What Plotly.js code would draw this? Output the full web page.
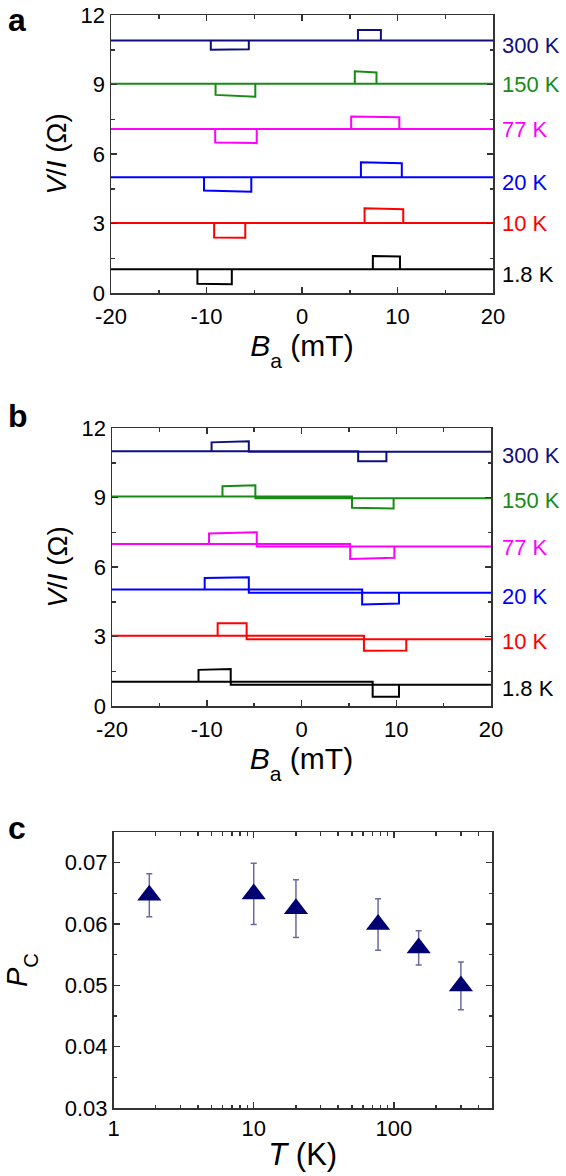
<!DOCTYPE html>
<html>
<head>
<meta charset="utf-8">
<script src="https://cdn.plot.ly/plotly-3.0.1.min.js"></script>
<style>html,body{margin:0;padding:0;background:#fff;}#chart{width:566px;height:1176px;}</style>
</head>
<body>
<div id="chart"></div>
<script>
// ---------- DATA ----------
const temps = ['300 K', '150 K', '77 K', '20 K', '10 K', '1.8 K'];

// Panel a : field sweeps (B in mT, V/I in Ohm), sweep up then sweep down
const a_B_300 = [-20, 5.86, 5.86, 8.26, 8.26, 20, -5.57, -5.57, -9.55, -9.55, -20];
const a_V_300 = [10.9, 10.9, 11.35, 11.35, 10.9, 10.9, 10.9, 10.52, 10.50, 10.9, 10.9];
const a_B_150 = [-20, 5.53, 5.53, 7.80, 7.80, 20, -4.89, -4.89, -9.05, -9.05, -20];
const a_V_150 = [9.03, 9.03, 9.57, 9.52, 9.03, 9.03, 9.03, 8.47, 8.55, 9.03, 9.03];
const a_B_77 = [-20, 5.15, 5.15, 10.19, 10.19, 20, -4.74, -4.74, -9.09, -9.09, -20];
const a_V_77 = [7.08, 7.08, 7.62, 7.59, 7.08, 7.08, 7.08, 6.47, 6.50, 7.08, 7.08];
const a_B_20 = [-20, 6.17, 6.17, 10.45, 10.45, 20, -5.31, -5.31, -10.26, -10.26, -20];
const a_V_20 = [5.0, 5.0, 5.64, 5.60, 5.0, 5.0, 5.0, 4.37, 4.42, 5.0, 5.0];
const a_B_10 = [-20, 6.55, 6.55, 10.6, 10.6, 20, -5.94, -5.94, -9.2, -9.2, -20];
const a_V_10 = [3.02, 3.02, 3.66, 3.62, 3.02, 3.02, 3.02, 2.38, 2.40, 3.02, 3.02];
const a_B_1p8 = [-20, 7.42, 7.42, 10.26, 10.26, 20, -7.35, -7.35, -10.95, -10.95, -20];
const a_V_1p8 = [1.02, 1.02, 1.60, 1.58, 1.02, 1.02, 1.02, 0.38, 0.40, 1.02, 1.02];

// Panel b
const b_B_300 = [-20, -9.49, -9.49, -5.56, -5.56, 20, 8.96, 8.96, 5.98, 5.98, -20];
const b_V_300 = [11.0, 11.0, 11.38, 11.43, 10.97, 10.97, 10.97, 10.57, 10.57, 11.0, 11.0];
const b_B_150 = [-20, -8.34, -8.34, -4.87, -4.87, 20, 9.72, 9.72, 5.33, 5.33, -20];
const b_V_150 = [9.04, 9.04, 9.49, 9.53, 8.97, 8.97, 8.97, 8.53, 8.56, 9.04, 9.04];
const b_B_77 = [-20, -9.76, -9.76, -4.72, -4.72, 20, 9.80, 9.80, 5.14, 5.14, -20];
const b_V_77 = [6.99, 6.99, 7.45, 7.50, 6.89, 6.89, 6.89, 6.40, 6.35, 6.99, 6.99];
const b_B_20 = [-20, -10.22, -10.22, -5.56, -5.56, 20, 10.29, 10.29, 6.40, 6.40, -20];
const b_V_20 = [5.03, 5.03, 5.53, 5.56, 4.89, 4.89, 4.89, 4.42, 4.38, 5.03, 5.03];
const b_B_10 = [-20, -8.85, -8.85, -5.79, -5.79, 20, 11.06, 11.06, 6.59, 6.59, -20];
const b_V_10 = [3.03, 3.03, 3.57, 3.57, 2.88, 2.88, 2.88, 2.40, 2.38, 3.03, 3.03];
const b_B_1p8 = [-20, -10.87, -10.87, -7.47, -7.47, 20, 10.29, 10.29, 7.51, 7.51, -20];
const b_V_1p8 = [1.05, 1.05, 1.56, 1.60, 0.92, 0.92, 0.92, 0.40, 0.40, 1.05, 1.05];

// Panel c
const T_K = [1.8, 10, 20, 77, 150, 300];
const Pc = [0.0647, 0.0649, 0.0625, 0.0599, 0.0561, 0.0499];
const Pc_err = [0.0035, 0.0050, 0.0047, 0.0042, 0.0028, 0.0039];

// tick labels
const fieldTicks = [-20, -10, 0, 10, 20];
const fieldTickText = ['-20', '-10', '0', '10', '20'];
const vTicks = [0, 3, 6, 9, 12];
const tTicks = [1, 10, 100];
const tTickText = ['1', '10', '100'];
const tMinorTicks = [2, 3, 4, 5, 6, 7, 8, 9, 20, 30, 40, 50, 60, 70, 80, 90, 200, 300, 400, 500];
const pTicks = [0.03, 0.04, 0.05, 0.06, 0.07];
const pTickText = ['0.03', '0.04', '0.05', '0.06', '0.07'];

// ---------- STYLE ----------
const colors = ['#0e0e80', '#168c16', '#ff00ff', '#0000ff', '#ff0000', '#000000'];
const FONT = 'Liberation Sans, Arial, sans-serif';
const SUB = 'font-size:70%;baseline-shift:sub';
const aSets = [[a_B_300, a_V_300], [a_B_150, a_V_150], [a_B_77, a_V_77], [a_B_20, a_V_20], [a_B_10, a_V_10], [a_B_1p8, a_V_1p8]];
const bSets = [[b_B_300, b_V_300], [b_B_150, b_V_150], [b_B_77, b_V_77], [b_B_20, b_V_20], [b_B_10, b_V_10], [b_B_1p8, b_V_1p8]];
const aLabelY = [10.67, 9.01, 7.05, 4.77, 3.01, 0.82];
const bLabelY = [10.80, 8.89, 6.84, 4.72, 2.78, 0.76];

const traces = [];
aSets.forEach((s, i) => traces.push({x: s[0], y: s[1], xaxis: 'x', yaxis: 'y', mode: 'lines', name: temps[i],
  line: {color: colors[i], width: 2}, hoverinfo: 'skip'}));
bSets.forEach((s, i) => traces.push({x: s[0], y: s[1], xaxis: 'x2', yaxis: 'y2', mode: 'lines', name: temps[i],
  line: {color: colors[i], width: 2}, hoverinfo: 'skip'}));
traces.push({x: T_K, y: Pc, xaxis: 'x3', yaxis: 'y3', mode: 'markers', name: 'Pc',
  marker: {symbol: 'triangle-up', size: 21, color: '#000072'},
  error_y: {type: 'data', array: Pc_err, visible: true, color: '#6a6aa0', thickness: 1.5, width: 3}});

const axLine = {showline: true, linecolor: '#333', linewidth: 1.5, mirror: 'ticks', ticks: 'inside',
  ticklen: 6, tickwidth: 1.5, tickcolor: '#333', showgrid: false, zeroline: false,
  tickfont: {family: FONT, size: 22, color: '#000'}};
const minorStyle = {ticks: 'inside', ticklen: 3.5, tickwidth: 1.5, tickcolor: '#333'};

function fieldAxis(domain, anchor) {
  return Object.assign({}, axLine, {domain: domain, anchor: anchor, range: [-20, 20], tickmode: 'array',
    tickvals: fieldTicks, ticktext: fieldTickText, ticklabelstandoff: 3,
    title: {text: '<i>B</i><span style="' + SUB + '">a</span> (mT)', font: {family: FONT, size: 30, color: '#000'}, standoff: 2},
    minor: Object.assign({tickmode: 'linear', tick0: 0, dtick: 5}, minorStyle)});
}
function vAxis(domain, anchor) {
  return Object.assign({}, axLine, {domain: domain, anchor: anchor, range: [0, 12], tickmode: 'array',
    tickvals: vTicks, ticktext: vTicks.map(String),
    title: {text: '<i>V</i>/<i>I</i> (Ω)', font: {family: FONT, size: 28, color: '#000'}, standoff: 6},
    minor: Object.assign({tickmode: 'linear', tick0: 0, dtick: 1.5}, minorStyle)});
}

const annotations = [];
function ann(o) { annotations.push(Object.assign({showarrow: false, font: {family: FONT, size: 22, color: '#000'}}, o)); }

temps.forEach((t, i) => {
  ann({text: t, xref: 'paper', yref: 'y', x: 500 / 566, y: aLabelY[i], xanchor: 'left', yanchor: 'middle',
    font: {family: FONT, size: 22, color: colors[i]}});
  ann({text: t, xref: 'paper', yref: 'y2', x: 500 / 566, y: bLabelY[i], xanchor: 'left', yanchor: 'middle',
    font: {family: FONT, size: 22, color: colors[i]}});
});
// panel letters
[['a', 0], ['b', 396], ['c', 808]].forEach(p => ann({text: p[0], xref: 'paper', yref: 'paper',
  x: 6 / 566, y: 1 - p[1] / 1176, xanchor: 'left', yanchor: 'top',
  font: {family: FONT, size: 32, color: '#000', weight: 'bold'}}));

const layout = {
  width: 566, height: 1176, margin: {l: 0, r: 0, t: 0, b: 0}, showlegend: false,
  paper_bgcolor: '#fff', plot_bgcolor: '#fff', font: {family: FONT, size: 20, color: '#000'},
  xaxis: fieldAxis([111 / 566, 493 / 566], 'y'),
  yaxis: vAxis([1 - 293 / 1176, 1 - 15 / 1176], 'x'),
  xaxis2: fieldAxis([112 / 566, 491 / 566], 'y2'),
  yaxis2: vAxis([1 - 706 / 1176, 1 - 428 / 1176], 'x2'),
  xaxis3: Object.assign({}, axLine, {domain: [113.5 / 566, 492 / 566], anchor: 'y3', type: 'log',
    range: [0, Math.log10(500)], tickmode: 'array', tickvals: tTicks, ticktext: tTickText,
    title: {text: '<i>T</i> (K)', font: {family: FONT, size: 31, color: '#000'}, standoff: 3},
    minor: Object.assign({tickmode: 'array', tickvals: tMinorTicks}, minorStyle)}),
  yaxis3: Object.assign({}, axLine, {domain: [1 - 1108 / 1176, 1 - 832 / 1176], anchor: 'x3', range: [0.03, 0.075],
    tickmode: 'array', tickvals: pTicks, ticktext: pTickText,
    title: {text: '<i>P</i><span style="' + SUB + '">C</span>', font: {family: FONT, size: 29, color: '#000'}, standoff: 28},
    minor: Object.assign({tickmode: 'linear', tick0: 0.03, dtick: 0.005}, minorStyle)}),
  annotations: annotations
};

Plotly.newPlot('chart', traces, layout, {staticPlot: true, displayModeBar: false});
</script>
</body>
</html>
